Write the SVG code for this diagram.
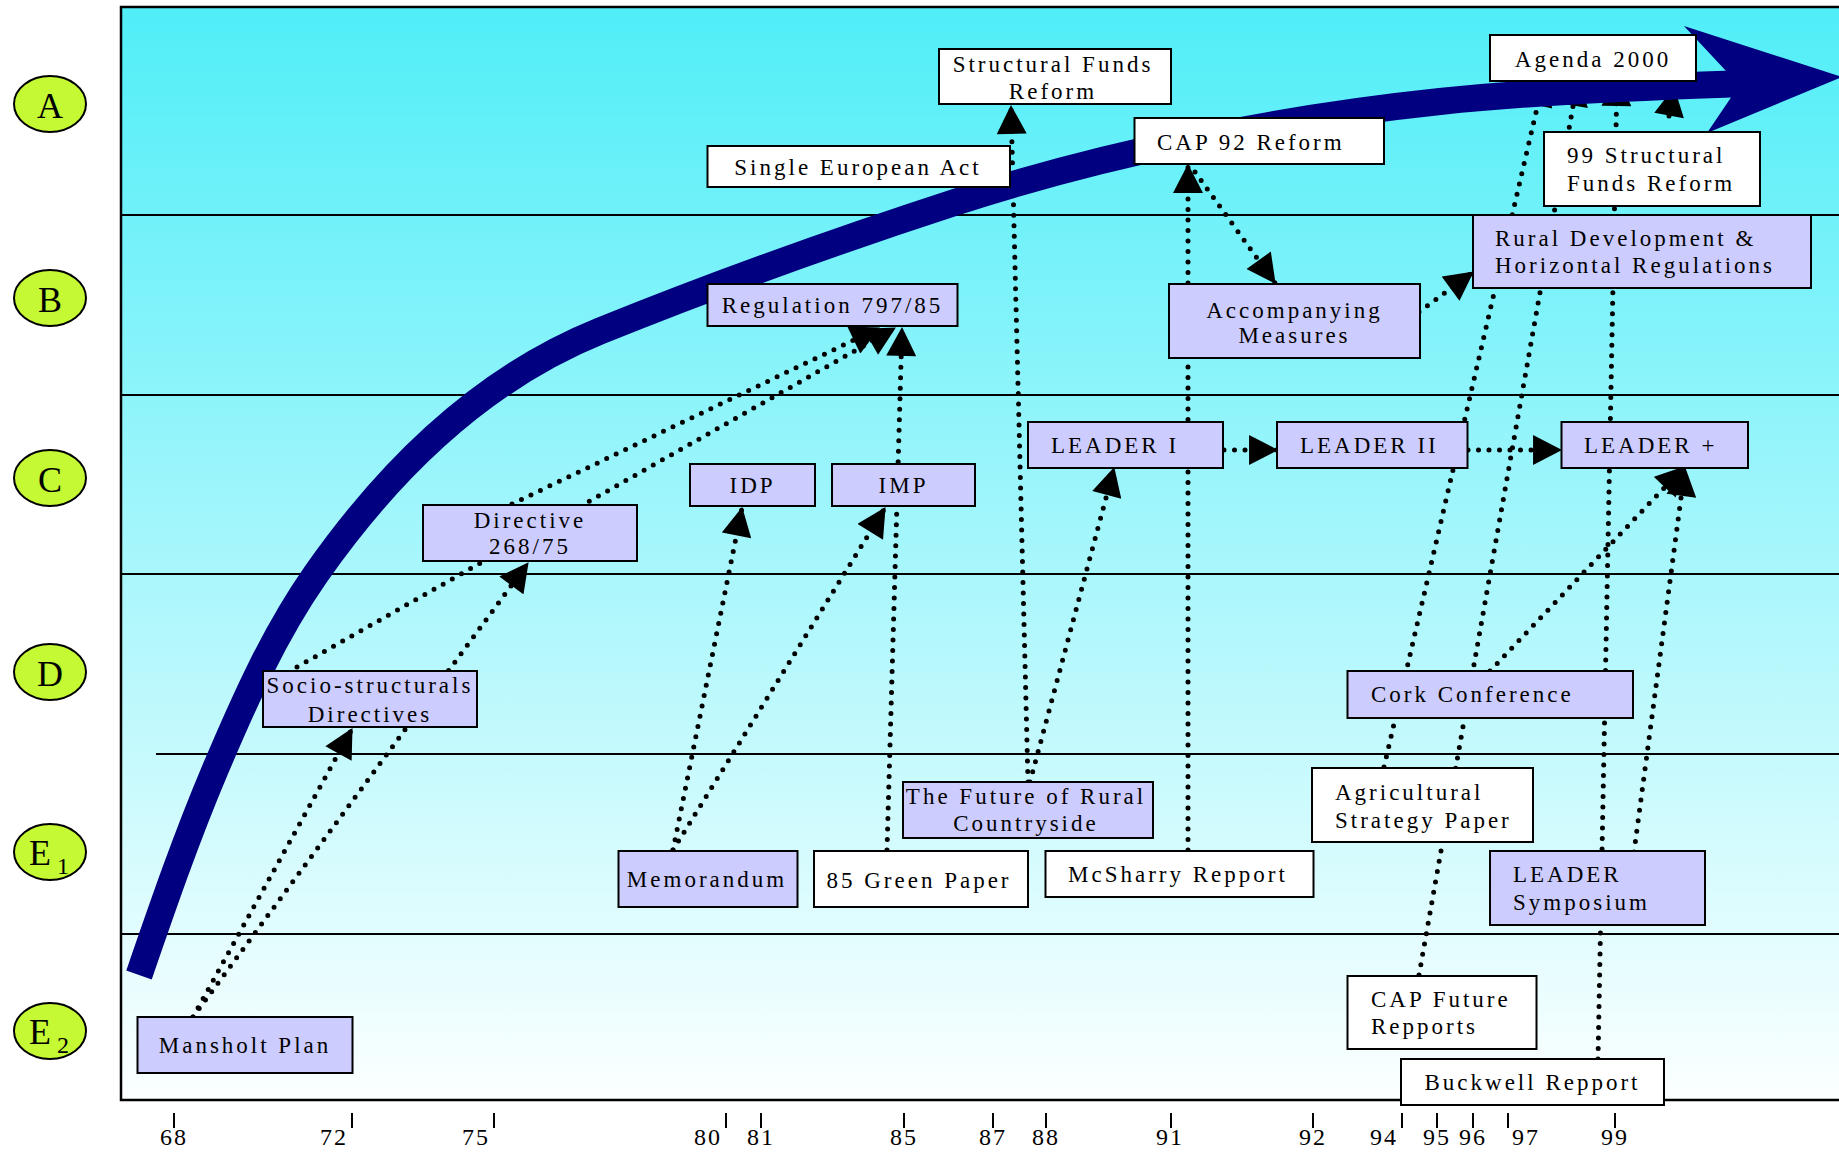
<svg xmlns="http://www.w3.org/2000/svg" width="1839" height="1152" viewBox="0 0 1839 1152">
<defs>
<linearGradient id="bg" x1="0" y1="0" x2="0" y2="1">
<stop offset="0" stop-color="#50EEF8"/>
<stop offset="1" stop-color="#FCFFFF"/>
</linearGradient>
<marker id="ah" markerUnits="userSpaceOnUse" markerWidth="30" markerHeight="30" viewBox="0 0 28 29" refX="27" refY="14.5" orient="auto">
<path d="M0,0 L28,14.5 L0,29 z" fill="#000"/>
</marker>
<style>
.t{font-family:"Liberation Serif","Times New Roman",serif;font-size:23px;letter-spacing:3px;fill:#000}
.m{text-anchor:middle}
.lab{font-family:"Liberation Serif","Times New Roman",serif;font-size:36px;fill:#000;text-anchor:middle}
.sub{font-family:"Liberation Serif","Times New Roman",serif;font-size:24px;fill:#000}
.yr{font-family:"Liberation Serif","Times New Roman",serif;font-size:24px;letter-spacing:2px;fill:#000;text-anchor:middle}
.grid{stroke:#000;stroke-width:1.8}
.ell{fill:#C4F934;stroke:#000;stroke-width:2}
.c{fill:none;stroke:#000;stroke-width:5;stroke-dasharray:0 10.5;stroke-linecap:round}
.a{marker-end:url(#ah)}
.w{fill:#FFFFFF;stroke:#000;stroke-width:2}
.l{fill:#CCCCFF;stroke:#000;stroke-width:2}
.tick{stroke:#000;stroke-width:2}
</style>
</defs>
<rect width="1839" height="1152" fill="#FFFFFF"/>
<g id="background">
<rect x="121" y="7" width="1720" height="1093" fill="url(#bg)" stroke="#000" stroke-width="2.5"/>
<line class="grid" x1="121" y1="215" x2="1839" y2="215"/>
<line class="grid" x1="121" y1="395" x2="1839" y2="395"/>
<line class="grid" x1="121" y1="574" x2="1839" y2="574"/>
<line class="grid" x1="156" y1="754" x2="1839" y2="754"/>
<line class="grid" x1="121" y1="934" x2="1839" y2="934"/>
</g>
<g id="level-labels">
<g id="level-A"><ellipse class="ell" cx="50" cy="104" rx="36" ry="28"/><text class="lab" x="50" y="118">A</text></g>
<g id="level-B"><ellipse class="ell" cx="50" cy="298" rx="36" ry="28"/><text class="lab" x="50" y="312">B</text></g>
<g id="level-C"><ellipse class="ell" cx="50" cy="478" rx="36" ry="28"/><text class="lab" x="50" y="492">C</text></g>
<g id="level-D"><ellipse class="ell" cx="50" cy="672" rx="36" ry="28"/><text class="lab" x="50" y="686">D</text></g>
<g id="level-E1"><ellipse class="ell" cx="50" cy="852" rx="36" ry="28"/><text class="lab" x="40" y="865">E</text><text class="sub" x="57" y="874">1</text></g>
<g id="level-E2"><ellipse class="ell" cx="50" cy="1031" rx="36" ry="28"/><text class="lab" x="40" y="1044">E</text><text class="sub" x="57" y="1053">2</text></g>
</g>
<g id="connectors">
<path class="c a" d="M193,1017 L352,729"/>
<path class="c a" d="M193,1017 L528,563"/>
<path class="c a" d="M297,667 L895,328"/>
<path class="c a" d="M512,504 L879,328"/>
<path class="c a" d="M673,850 L742,508"/>
<path class="c a" d="M673,850 L885,508"/>
<path class="c a" d="M887,850 L902,328"/>
<path class="c a" d="M1028,782 L1011,106"/>
<path class="c a" d="M1030,782 L1114,468"/>
<path class="c a" d="M1188,850 L1188,165"/>
<path class="c a" d="M1195,172 L1275,283"/>
<path class="c a" d="M1419,312 L1473,272"/>
<path class="c a" d="M1224,450 L1277,450"/>
<path class="c a" d="M1468,450 L1561,450"/>
<path class="c a" d="M1384,767 L1544,78"/>
<path class="c a" d="M1419,975 L1578,78"/>
<path class="c a" d="M1598,1059 L1617,78"/>
<path class="c a" d="M1634,852 L1685,468"/>
<path class="c a" d="M1490,671 L1684,467"/>
<path class="c a" d="M1669,116 L1674,88"/>
</g>
<g id="trend-arrow">
<path d="M139,975 C162.8,906 186.5,837.2 215,770 C243.9,701.9 273.6,634.6 316,574 C388.8,470 482.2,378.6 600,331 C711.3,286 841.9,239.1 956,202 C1109.1,152.2 1279.9,118.3 1440,101.5 C1536.5,91.4 1635,87.4 1732,84" fill="none" stroke="#000080" stroke-width="27"/>
<polygon points="1727,72 1684,26 1842,77 1707,133 1732,96" fill="#000080"/>
</g>
<g id="n-structural-funds"><rect class="w" x="939" y="49" width="232" height="55"/><text class="t m" x="1053" y="72">Structural Funds</text><text class="t m" x="1053" y="99">Reform</text></g>
<g id="n-single-european-act"><rect class="w" x="707.5" y="146" width="302.5" height="41"/><text class="t m" x="858" y="175">Single European Act</text></g>
<g id="n-cap92"><rect class="w" x="1134.5" y="118" width="249.5" height="46"/><text class="t" x="1157" y="150">CAP 92 Reform</text></g>
<g id="n-agenda2000"><rect class="w" x="1490" y="35" width="206" height="46"/><text class="t m" x="1593" y="67">Agenda 2000</text></g>
<g id="n-99sfr"><rect class="w" x="1544" y="132" width="216" height="74"/><text class="t" x="1567" y="163">99 Structural</text><text class="t" x="1567" y="191">Funds Reform</text></g>
<g id="n-rural-dev"><rect class="l" x="1473" y="215" width="338" height="73"/><text class="t" x="1495" y="246">Rural Development &amp;</text><text class="t" x="1495" y="273">Horizontal Regulations</text></g>
<g id="n-reg797"><rect class="l" x="707.5" y="284" width="250" height="42"/><text class="t m" x="832.5" y="313">Regulation 797/85</text></g>
<g id="n-accompanying"><rect class="l" x="1169" y="284" width="251" height="74"/><text class="t m" x="1294.5" y="318">Accompanying</text><text class="t m" x="1294.5" y="343">Measures</text></g>
<g id="n-leader1"><rect class="l" x="1028" y="422" width="195" height="46"/><text class="t" x="1051" y="453">LEADER I</text></g>
<g id="n-leader2"><rect class="l" x="1277" y="422" width="190.5" height="46"/><text class="t" x="1300" y="453">LEADER II</text></g>
<g id="n-leaderplus"><rect class="l" x="1561.5" y="422" width="186.5" height="46"/><text class="t" x="1584" y="453">LEADER +</text></g>
<g id="n-idp"><rect class="l" x="690" y="464" width="125" height="42"/><text class="t m" x="752.5" y="493">IDP</text></g>
<g id="n-imp"><rect class="l" x="832" y="464" width="143" height="42"/><text class="t m" x="903.5" y="493">IMP</text></g>
<g id="n-directive"><rect class="l" x="423" y="505" width="214" height="56"/><text class="t m" x="530" y="528">Directive</text><text class="t m" x="530" y="554">268/75</text></g>
<g id="n-socio"><rect class="l" x="263" y="671" width="214" height="56"/><text class="t m" x="370" y="693">Socio-structurals</text><text class="t m" x="370" y="722">Directives</text></g>
<g id="n-cork"><rect class="l" x="1347.5" y="671" width="285.5" height="47"/><text class="t" x="1371" y="702">Cork Conference</text></g>
<g id="n-future"><rect class="l" x="903" y="782" width="250" height="56"/><text class="t m" x="1026" y="804">The Future of Rural</text><text class="t m" x="1026" y="831">Countryside</text></g>
<g id="n-asp"><rect class="w" x="1312" y="768" width="221" height="74"/><text class="t" x="1335" y="800">Agricultural</text><text class="t" x="1335" y="828">Strategy Paper</text></g>
<g id="n-memorandum"><rect class="l" x="618.5" y="851" width="179" height="56"/><text class="t m" x="707" y="887">Memorandum</text></g>
<g id="n-green-paper"><rect class="w" x="814" y="851" width="214" height="56"/><text class="t m" x="919" y="888">85 Green Paper</text></g>
<g id="n-mcsharry"><rect class="w" x="1045.5" y="851" width="268" height="46"/><text class="t" x="1068" y="882">McSharry Repport</text></g>
<g id="n-leader-symposium"><rect class="l" x="1490" y="851" width="215" height="74"/><text class="t" x="1513" y="882">LEADER</text><text class="t" x="1513" y="910">Symposium</text></g>
<g id="n-cap-future"><rect class="w" x="1347.5" y="976" width="189" height="73"/><text class="t" x="1371" y="1007">CAP Future</text><text class="t" x="1371" y="1034">Repports</text></g>
<g id="n-buckwell"><rect class="w" x="1401" y="1059" width="263" height="46"/><text class="t m" x="1532.5" y="1090">Buckwell Repport</text></g>
<g id="n-mansholt"><rect class="l" x="137.5" y="1017" width="215" height="56"/><text class="t m" x="245" y="1053">Mansholt Plan</text></g>
<g id="axis">
<line class="tick" x1="174" y1="1113" x2="174" y2="1128"/><text class="yr" x="174" y="1145">68</text>
<line class="tick" x1="352" y1="1113" x2="352" y2="1128"/><text class="yr" x="334" y="1145">72</text>
<line class="tick" x1="494" y1="1113" x2="494" y2="1128"/><text class="yr" x="476" y="1145">75</text>
<line class="tick" x1="726" y1="1113" x2="726" y2="1128"/><text class="yr" x="708" y="1145">80</text>
<line class="tick" x1="761" y1="1113" x2="761" y2="1128"/><text class="yr" x="761" y="1145">81</text>
<line class="tick" x1="904" y1="1113" x2="904" y2="1128"/><text class="yr" x="904" y="1145">85</text>
<line class="tick" x1="993" y1="1113" x2="993" y2="1128"/><text class="yr" x="993" y="1145">87</text>
<line class="tick" x1="1046" y1="1113" x2="1046" y2="1128"/><text class="yr" x="1046" y="1145">88</text>
<line class="tick" x1="1171" y1="1113" x2="1171" y2="1128"/><text class="yr" x="1170" y="1145">91</text>
<line class="tick" x1="1313" y1="1113" x2="1313" y2="1128"/><text class="yr" x="1313" y="1145">92</text>
<line class="tick" x1="1402" y1="1113" x2="1402" y2="1128"/><text class="yr" x="1384" y="1145">94</text>
<line class="tick" x1="1437" y1="1113" x2="1437" y2="1128"/><text class="yr" x="1437" y="1145">95</text>
<line class="tick" x1="1473" y1="1113" x2="1473" y2="1128"/><text class="yr" x="1473" y="1145">96</text>
<line class="tick" x1="1508" y1="1113" x2="1508" y2="1128"/><text class="yr" x="1526" y="1145">97</text>
<line class="tick" x1="1615" y1="1113" x2="1615" y2="1128"/><text class="yr" x="1615" y="1145">99</text>
</g>
</svg>
